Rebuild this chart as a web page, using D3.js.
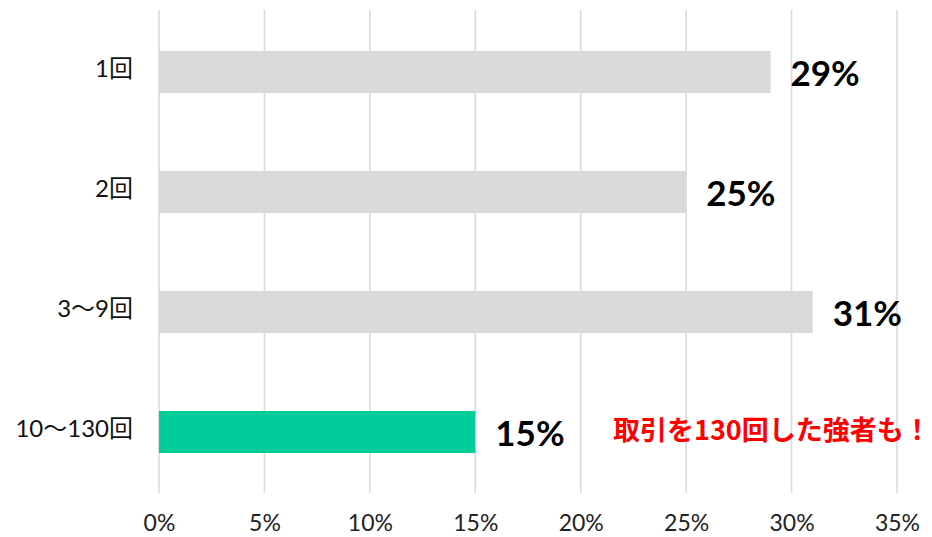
<!DOCTYPE html>
<html>
<head>
<meta charset="utf-8">
<script src="https://cdn.jsdelivr.net/npm/d3@7"></script>
<style>
  body { margin: 0; background: #fff; }
</style>
</head>
<body>
<div id="chart"></div>
<script>
const width = 932
const height = 537
const margin = { top: 10, bottom: 47, left: 159, right: 35 }

// data
const categories = ["1回", "2回", "3〜9回", "10〜130回"]
const values = [29, 25, 31, 15]
const barColors = ["#d9d9d9", "#d9d9d9", "#d9d9d9", "#00cc99"]
const xTicks = [0, 5, 10, 15, 20, 25, 30, 35]
const note = "取引を130回した強者も！"

const svg = d3.select("#chart").append("svg")
    .attr("width", width)
    .attr("height", height)

const x = d3.scaleLinear().domain([0, 35]).range([margin.left, width - margin.right])
const y = d3.scaleBand().domain(categories)
    .range([margin.top + 2, height - margin.bottom + 2])
    .paddingInner(0.65).paddingOuter(0.325)

const gridGroup = svg.append("g")
gridGroup.selectAll("line").data(xTicks).enter().append("line")
    .attr("x1", d => x(d)).attr("x2", d => x(d))
    .attr("y1", margin.top).attr("y2", height - margin.bottom + 3)
    .attr("stroke", "#d9d9d9")
    .attr("stroke-width", 1.5)

// x axis labels
const xAxis = d3.axisBottom(x).tickValues(xTicks).tickFormat(d => d + "%").tickSize(0).tickPadding(25)
const xAxisGroup = svg.append("g")
    .attr("transform", `translate(0, ${height - margin.bottom})`)
    .call(xAxis)
xAxisGroup.select(".domain").remove()
xAxisGroup.selectAll("text")
    .attr("font-family", "Lato, 'Noto Sans CJK JP', sans-serif")
    .attr("font-size", 23)
    .attr("font-weight", 400)
    .attr("fill", "#222")

// y axis labels
const yAxis = d3.axisLeft(y).tickSize(0).tickPadding(26)
const yAxisGroup = svg.append("g")
    .attr("transform", `translate(${margin.left}, 0)`)
    .call(yAxis)
yAxisGroup.select(".domain").remove()
yAxisGroup.selectAll("text")
    .attr("font-family", "Lato, 'Noto Sans CJK JP', sans-serif")
    .attr("font-size", 24)
    .attr("font-weight", 400)
    .attr("fill", "#111")
    .attr("dy", "0.2em")

const elementGroup = svg.append("g")
elementGroup.selectAll("rect").data(values).enter().append("rect")
    .attr("x", x(0))
    .attr("y", (d, i) => y(categories[i]))
    .attr("width", d => x(d) - x(0))
    .attr("height", y.bandwidth())
    .attr("fill", (d, i) => barColors[i])

elementGroup.selectAll("text.value").data(values).enter().append("text")
    .attr("class", "value")
    .attr("x", d => x(d) + 20)
    .attr("y", (d, i) => y(categories[i]) + y.bandwidth() / 2 + 2)
    .attr("dy", "0.35em")
    .attr("font-family", "Lato, sans-serif")
    .attr("font-weight", 700)
    .attr("font-size", 35)
    .attr("fill", "#000")
    .text(d => d + "%")

svg.append("text")
    .attr("x", 613)
    .attr("y", y(categories[3]) + y.bandwidth() / 2 - 1)
    .attr("dy", "0.35em")
    .attr("font-family", "'Noto Sans CJK JP', sans-serif")
    .attr("font-weight", 700)
    .attr("font-size", 27)
    .attr("fill", "#ff0000")
    .text(note)
</script>
</body>
</html>
